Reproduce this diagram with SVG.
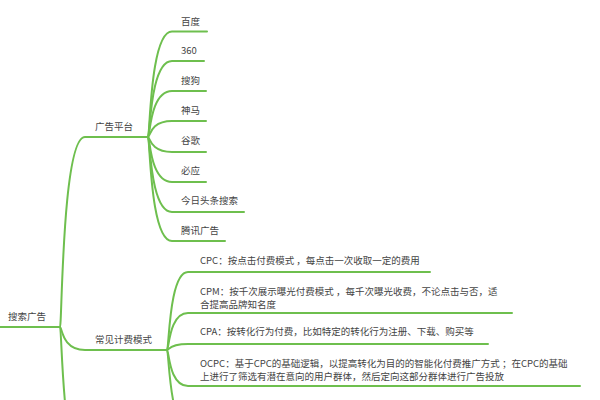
<svg xmlns="http://www.w3.org/2000/svg" width="600" height="400" viewBox="0 0 600 400">
<style>
.c{fill:none;stroke:#6ebf4e;stroke-width:2;stroke-linecap:round}
.t{font-family:"Noto Sans CJK SC","Noto Sans",sans-serif;font-size:9.5px;fill:#444}
</style>
<rect width="600" height="400" fill="#fff"/>
<g id="connectors">
<path class="c" d="M0,327 H60"/>
<path class="c" d="M60,327 C62,327 62,137 85,137 H148"/>
<path class="c" d="M60,327 C62,327 62,350 85,350 H167"/>
<path class="c" d="M60,327 C62,327 62,470 85,470"/>
<path class="c" d="M148,137 C150,137 150,31.5 172,31.5 H207"/>
<path class="c" d="M148,137 C150,137 150,61 172,61 H204"/>
<path class="c" d="M148,137 C150,137 150,91 172,91 H206"/>
<path class="c" d="M148,137 C150,137 150,121 172,121 H206"/>
<path class="c" d="M148,137 C150,137 150,152 172,152 H206"/>
<path class="c" d="M148,137 C150,137 150,182 172,182 H206"/>
<path class="c" d="M148,137 C150,137 150,212 172,212 H244"/>
<path class="c" d="M148,137 C150,137 150,241 172,241 H225"/>
<path class="c" d="M167,350 C169,350 169,272 188,272 H430"/>
<path class="c" d="M167,350 C169,350 169,313 188,313 H512"/>
<path class="c" d="M167,350 C169,350 169,344 188,344 H488"/>
<path class="c" d="M167,350 C169,350 169,386 188,386 H580"/>
<path class="c" d="M167,350 C169,350 169,430 190,430"/>
</g>
<g id="root"><text class="t" x="8" y="320">搜索广告</text></g>
<g id="n-platform"><text class="t" x="95" y="129.5">广告平台</text></g>
<g id="n-baidu"><text class="t" x="181" y="24.5">百度</text></g>
<g id="n-360"><text class="t" x="181" y="53.5">360</text></g>
<g id="n-sogou"><text class="t" x="181" y="83.5">搜狗</text></g>
<g id="n-shenma"><text class="t" x="181" y="113.5">神马</text></g>
<g id="n-google"><text class="t" x="181" y="144">谷歌</text></g>
<g id="n-bing"><text class="t" x="181" y="174">必应</text></g>
<g id="n-toutiao"><text class="t" x="181" y="204">今日头条搜索</text></g>
<g id="n-tencent"><text class="t" x="181" y="233.5">腾讯广告</text></g>
<g id="n-billing"><text class="t" x="95" y="342.5">常见计费模式</text></g>
<g id="n-cpc"><text class="t" x="200" y="263.5">CPC：按点击付费模式 ，每点击一次收取一定的费用</text></g>
<g id="n-cpm"><text class="t" x="200" y="294.5">CPM：按千次展示曝光付费模式 ，每千次曝光收费，不论点击与否，适</text><text class="t" x="200" y="307.5">合提高品牌知名度</text></g>
<g id="n-cpa"><text class="t" x="200" y="334.5">CPA：按转化行为付费，比如特定的转化行为注册、下载、购买等</text></g>
<g id="n-ocpc"><text class="t" x="200" y="366.5">OCPC：基于CPC的基础逻辑，以提高转化为目的的智能化付费推广方式 ；在CPC的基础</text><text class="t" x="200" y="379.5">上进行了筛选有潜在意向的用户群体，然后定向这部分群体进行广告投放</text></g>
</svg>
